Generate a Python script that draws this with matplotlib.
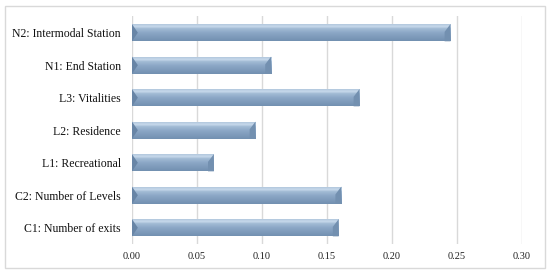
import matplotlib
matplotlib.use("Agg")
import matplotlib.pyplot as plt
import numpy as np
from matplotlib.patches import Rectangle, Polygon
from matplotlib.colors import LinearSegmentedColormap

categories = ["C1: Number of exits", "C2: Number of Levels", "L1: Recreational",
              "L2: Residence", "L3: Vitalities", "N1: End Station",
              "N2: Intermodal Station"]
values = [0.159, 0.161, 0.063, 0.095, 0.175, 0.107, 0.245]
xticks = [0.00, 0.05, 0.10, 0.15, 0.20, 0.25, 0.30]

plt.rcParams['font.family'] = ['Liberation Serif', 'DejaVu Serif']

fig = plt.figure(figsize=(5.5, 2.74), dpi=100)
ax = fig.add_axes([0.24, 0.1095, 0.709, 0.8305])

bars = ax.barh(range(len(categories)), values, height=0.53, color='#8ba6c4',
               edgecolor='none', zorder=2)

cmap = LinearSegmentedColormap.from_list(
    'bev', [(0.0, '#7290b1'), (0.45, '#8aa6c5'), (0.7, '#a2bbd5'),
            (0.8, '#c6d8ea'), (0.92, '#b8cde2'), (1.0, '#9cb5cf')])
grad = np.linspace(0, 1, 64).reshape(-1, 1)
bw = 0.0045
for b in bars:
    x0, y0 = b.get_x(), b.get_y()
    w, h = b.get_width(), b.get_height()
    im = ax.imshow(grad, aspect='auto', cmap=cmap, origin='lower',
                   extent=[x0, x0 + w, y0, y0 + h], zorder=3)
    im.set_clip_path(b)
    ym = y0 + h / 2
    ax.add_patch(Polygon([[x0, y0 + h], [x0 + bw, ym], [x0, y0]],
                         closed=True, facecolor='#6885a6', edgecolor='none', zorder=4))
    ax.add_patch(Polygon([[x0 + w, y0 + h], [x0 + w - bw, y0 + h * 0.55], [x0 + w - bw, y0], [x0 + w, y0]],
                         closed=True, facecolor='#7390b0', edgecolor='none', zorder=4))

ax.set_xlim(0, 0.30)
ax.set_ylim(-0.5, len(categories) - 0.5)
ax.set_xticks(xticks)
ax.set_xticklabels([f"{t:.2f}" for t in xticks], fontsize=7.5, color='#222222')
ax.set_yticks(range(len(categories)))
ax.set_yticklabels(categories, fontsize=8.5, color='#111111')
ax.tick_params(axis='both', length=0, pad=6)
ax.tick_params(axis='y', pad=8)
ax.grid(axis='x', color='#d9d9d9', linewidth=1, zorder=0)
ax.set_axisbelow(True)
for s in ax.spines.values():
    s.set_visible(False)

fig.patches.append(Rectangle((5 / 550, 6 / 274), 540 / 550, 262 / 274,
                             transform=fig.transFigure, fill=False,
                             edgecolor='#d9d9d9', linewidth=1))

fig.savefig("out.png", dpi=100)
